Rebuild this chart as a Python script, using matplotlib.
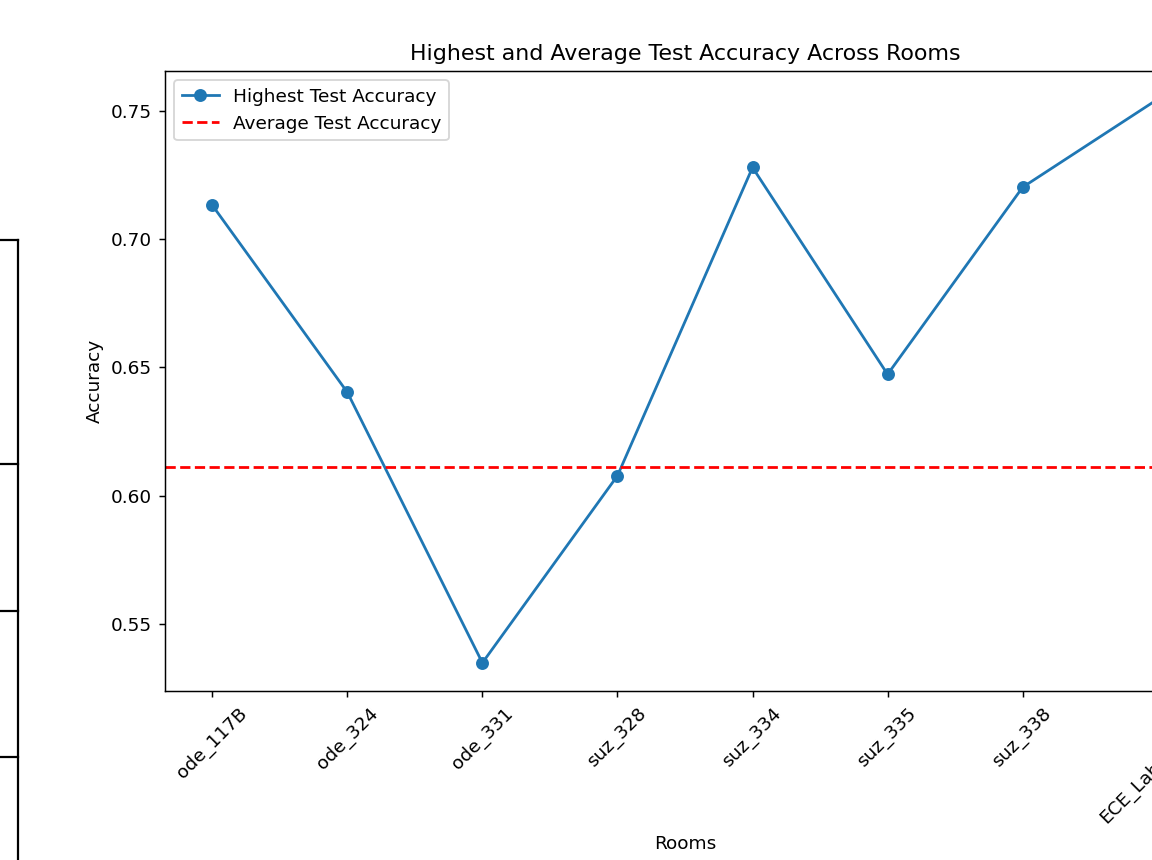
import matplotlib
matplotlib.use('Agg')
import matplotlib.pyplot as plt
import matplotlib.transforms as mtransforms
from matplotlib.lines import Line2D

rooms = ['ode_117B', 'ode_324', 'ode_331', 'suz_328', 'suz_334', 'suz_335', 'suz_338', 'ECE_Lab']
highest_acc = [0.7132, 0.6403, 0.5349, 0.6078, 0.7279, 0.6473, 0.7202, 0.7545]
average_acc = 0.6113

W, H, DPI = 1152, 860, 133
fig = plt.figure(figsize=(W / DPI, H / DPI), dpi=DPI)

# axes run past the right edge of the canvas
ax = fig.add_axes([165 / W, 1 - 691 / H, 1040 / W, 620 / H])
ax.plot(rooms, highest_acc, marker='o', label='Highest Test Accuracy')
ax.axhline(average_acc, color='r', linestyle='--', label='Average Test Accuracy')
ax.set_title('Highest and Average Test Accuracy Across Rooms')
ax.set_xlabel('Rooms')
ax.xaxis.set_label_coords(0.5, -0.232)
ax.set_ylabel('Accuracy')
ax.tick_params(axis='x', rotation=45)
ax.legend(loc='upper left')

# push the last room label down-left so it stays readable at the edge
last = ax.get_xticklabels()[-1]
shift = mtransforms.ScaledTranslation(-27 / DPI, -54 / DPI, fig.dpi_scale_trans)
last.set_transform(last.get_transform() + shift)

# edge of the neighbouring table
tx = 18 / W
fig.add_artist(Line2D([tx, tx], [0, 1 - 240 / H], color='black', lw=1.2))
for yy in [240, 464, 611, 757]:
    fig.add_artist(Line2D([0, tx], [1 - yy / H, 1 - yy / H], color='black', lw=1.2))

fig.savefig('out.png', dpi=DPI)
